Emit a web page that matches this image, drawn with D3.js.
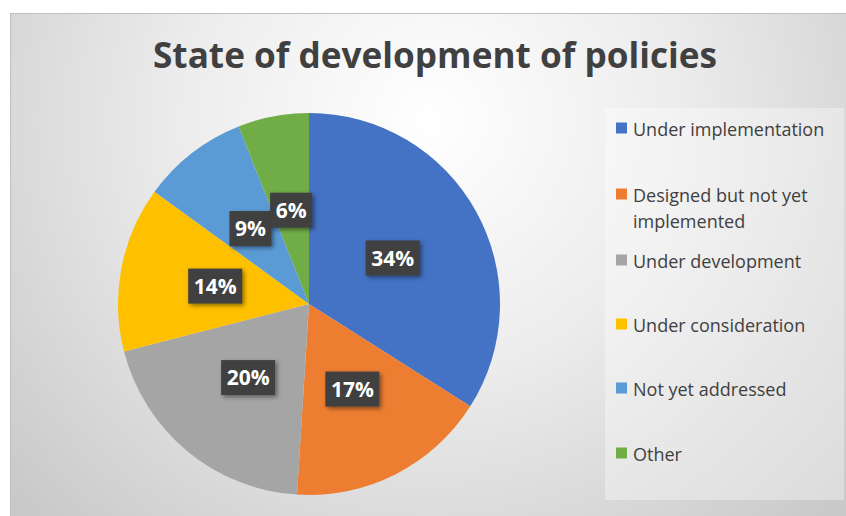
<!DOCTYPE html>
<html>
<head>
<meta charset="utf-8">
<script src="https://cdn.jsdelivr.net/npm/d3@7"></script>
<style>
  body { margin: 0; background: #fff; }
  svg { display: block; font-family: "Open Sans", Lato, sans-serif; }
</style>
</head>
<body>
<div class="chart"></div>
<script>
(function() {

// data
var categories = ['Under implementation', 'Designed but not yet implemented', 'Under development',
                  'Under consideration', 'Not yet addressed', 'Other'];
var values = [34, 17, 20, 14, 9, 6];
var legendLines = [['Under implementation'], ['Designed but not yet', 'implemented'], ['Under development'],
                   ['Under consideration'], ['Not yet addressed'], ['Other']];
var colors = ['#4472C4', '#ED7D31', '#A5A5A5', '#FFC000', '#5B9BD5', '#70AD47'];

var width = 846, height = 516;

var svg = d3.select('.chart')
  .append('svg')
  .attr('width', width)
  .attr('height', height);

var defs = svg.append('defs');

// background gradient
var grad = defs.append('radialGradient')
  .attr('id', 'bg')
  .attr('gradientUnits', 'userSpaceOnUse')
  .attr('cx', 430).attr('cy', 120).attr('r', 560);
grad.append('stop').attr('offset', '0%').attr('stop-color', '#ffffff');
grad.append('stop').attr('offset', '45%').attr('stop-color', '#ececec');
grad.append('stop').attr('offset', '100%').attr('stop-color', '#c9c9c9');

var shadow = defs.append('filter').attr('id', 'shadow')
  .attr('x', '-30%').attr('y', '-30%').attr('width', '170%').attr('height', '170%');
shadow.append('feDropShadow')
  .attr('dx', 2).attr('dy', 2).attr('stdDeviation', 2)
  .attr('flood-color', '#000').attr('flood-opacity', 0.45);

svg.append('rect')
  .attr('x', 10.5).attr('y', 13.5)
  .attr('width', width - 10).attr('height', height - 13)
  .attr('fill', 'url(#bg)')
  .attr('stroke', '#bfbfbf');

// title
svg.append('text')
  .attr('x', 153).attr('y', 68)
  .attr('font-size', 35.5)
  .attr('font-weight', 'bold')
  .attr('fill', '#404040')
  .attr('textLength', 564)
  .attr('lengthAdjust', 'spacingAndGlyphs')
  .text('State of development of policies');

// pie
var cx = 309, cy = 304, radius = 191;

var pie = d3.pie().sort(null).value(function(d) { return d; });
var arc = d3.arc().innerRadius(0).outerRadius(radius);
var labelArc = d3.arc().innerRadius(radius * 0.5).outerRadius(radius * 0.5);

var g = svg.append('g').attr('transform', 'translate(' + cx + ',' + cy + ')');
var arcs = pie(values);

g.selectAll('path').data(arcs).enter()
  .append('path')
  .attr('d', arc)
  .attr('fill', function(d, i) { return colors[i]; });

// data labels
var labels = g.selectAll('g.lbl').data(arcs).enter()
  .append('g')
  .attr('class', 'lbl')
  .attr('transform', function(d) {
    var c = labelArc.centroid(d);
    return 'translate(' + c[0] + ',' + c[1] + ')';
  });

labels.append('rect')
  .attr('x', function(d) { return d.data >= 10 ? -27 : -21; })
  .attr('y', -17.5)
  .attr('width', function(d) { return d.data >= 10 ? 54 : 42; })
  .attr('height', 35)
  .attr('fill', '#404040')
  .attr('filter', 'url(#shadow)');

labels.append('text')
  .attr('text-anchor', 'middle')
  .attr('dy', '0.36em')
  .attr('font-size', 21)
  .attr('font-weight', 'bold')
  .attr('fill', '#ffffff')
  .text(function(d) { return d.data + '%'; });

// legend
svg.append('rect')
  .attr('x', 605).attr('y', 108)
  .attr('width', 239).attr('height', 392)
  .attr('fill', '#ffffff')
  .attr('fill-opacity', 0.35);

var rowY = [128, 194, 260, 324, 388, 453];

var items = svg.selectAll('g.leg').data(categories).enter()
  .append('g')
  .attr('class', 'leg')
  .attr('transform', function(d, i) { return 'translate(616,' + rowY[i] + ')'; });

items.append('rect')
  .attr('x', 0).attr('y', -5.5)
  .attr('width', 11).attr('height', 11)
  .attr('fill', function(d, i) { return colors[i]; });

items.append('text')
  .attr('x', 17)
  .attr('font-size', 18)
  .attr('fill', '#404040')
  .each(function(d, i) {
    var t = d3.select(this);
    legendLines[i].forEach(function(line, j) {
      t.append('tspan')
        .attr('x', 17)
        .attr('y', j * 26)
        .attr('dy', '0.42em')
        .text(line);
    });
  });

})();
</script>
</body>
</html>
